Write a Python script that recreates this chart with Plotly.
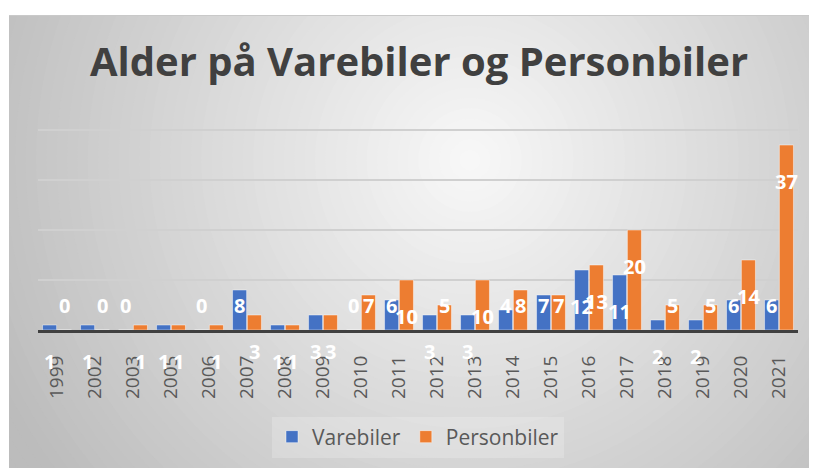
import plotly.graph_objects as go

years = ["1999", "2002", "2003", "2005", "2006", "2007", "2008", "2009", "2010", "2011", "2012",
         "2013", "2014", "2015", "2016", "2017", "2018", "2019", "2020", "2021"]
varebiler = [1, 1, 0, 1, 0, 8, 1, 3, 0, 6, 3, 3, 4, 7, 12, 11, 2, 2, 6, 6]
personbiler = [0, 0, 1, 1, 1, 3, 1, 3, 7, 10, 5, 10, 8, 7, 13, 20, 5, 5, 14, 37]

TITLE = "Alder på Varebiler og Personbiler"
BLUE = "#4472C4"
ORANGE = "#ED7D31"
FONT = "Open Sans"

# The page body has an 8px default margin, so the figure is drawn 8px in;
# the white strip left/top of the chart area comes from the page itself.
OFF = 8
W, H = 817 - OFF, 468 - OFF
YMAX = 41
# plot area in window pixels: x 38..798, y (330 - 5*YMAX)..330
ML, MR, MT, MB = 38 - OFF, 817 - 798, 330 - 5 * YMAX - OFF, 468 - 330
PW, PH = W - ML - MR, H - MT - MB


def px2paper_x(px):  # px in window coordinates
    return (px - OFF - ML) / PW


def px2paper_y(py):
    return (H - MB - (py - OFF)) / PH


fig = go.Figure()
fig.add_trace(go.Bar(name="Varebiler", x=years, y=varebiler,
                     marker=dict(color=BLUE, line=dict(color="rgba(255,255,255,0.45)", width=1))))
fig.add_trace(go.Bar(name="Personbiler", x=years, y=personbiler,
                     marker=dict(color=ORANGE, line=dict(color="rgba(255,255,255,0.45)", width=1))))

# background: white page, gray chart area with radial light centre
shapes = []
shapes.append(dict(type="rect", xref="paper", yref="paper", layer="below",
                   x0=px2paper_x(9), x1=px2paper_x(830), y0=px2paper_y(15), y1=px2paper_y(480),
                   fillcolor="#bdbdbd", line=dict(width=0)))
cx, cy = 470, 160
N = 60
RMAX = 620
for i in range(N):
    r = RMAX * (1 - i / N)
    c = int(max(188, min(249, 249 - 0.115 * r)))
    col = f"rgb({c},{c},{c})"
    shapes.append(dict(type="circle", xref="paper", yref="paper", layer="below",
                       x0=px2paper_x(cx - r), x1=px2paper_x(cx + r),
                       y0=px2paper_y(cy + r), y1=px2paper_y(cy - r),
                       fillcolor=col, line=dict(width=0)))
# white margins outside chart area
shapes.append(dict(type="rect", xref="paper", yref="paper", layer="below",
                   x0=px2paper_x(-10), x1=px2paper_x(9), y0=px2paper_y(-10), y1=px2paper_y(480),
                   fillcolor="white", line=dict(width=0)))
shapes.append(dict(type="rect", xref="paper", yref="paper", layer="below",
                   x0=px2paper_x(-10), x1=px2paper_x(830), y0=px2paper_y(-10), y1=px2paper_y(15),
                   fillcolor="white", line=dict(width=0)))
shapes.append(dict(type="line", xref="paper", yref="paper", layer="below",
                   x0=px2paper_x(9), x1=px2paper_x(830), y0=px2paper_y(15.5), y1=px2paper_y(15.5),
                   line=dict(color="#c9c9c9", width=1)))

# data labels (white, bold) positioned like the original
annotations = []


def label_pos(v):
    # small/mid bars have their label on a fixed row, others sit inside the bar end
    if v == 0 or 4 <= v <= 8:
        return 5, 0
    return v, -36


for series, shift in ((varebiler, -7.4), (personbiler, 7.4)):
    for i, v in enumerate(series):
        yv, ys = label_pos(v)
        annotations.append(dict(x=i, y=yv, xref="x", yref="y", text=str(v), showarrow=False,
                                xshift=shift, yshift=ys, yanchor="middle", xanchor="center",
                                font=dict(family=FONT, size=20, color="white", weight="bold")))

fig.update_layout(
    width=W, height=H,
    margin=dict(l=ML, r=MR, t=MT, b=MB, autoexpand=False),
    paper_bgcolor="white",
    plot_bgcolor="rgba(0,0,0,0)",
    barmode="group", bargap=0.22, bargroupgap=0.05,
    title=dict(text=TITLE, x=(419 - OFF) / W, xref="container", xanchor="center",
               y=1 - (62 - OFF) / H, yref="container", yanchor="middle",
               font=dict(family=FONT, size=40, color="#404040", weight="bold")),
    showlegend=True,
    legend=dict(orientation="h", x=(418 - OFF) / W, xref="container", xanchor="center",
                y=1 - (437 - OFF) / H, yref="container", yanchor="middle",
                bgcolor="rgba(255,255,255,0.2)", font=dict(family=FONT, size=21, color="#595959"),
                traceorder="normal", itemwidth=30),
    shapes=shapes,
    annotations=annotations,
    font=dict(family=FONT),
)
fig.update_xaxes(type="category", range=[-0.5, len(years) - 0.5], showline=True,
                 linecolor="#404040", linewidth=3, automargin=False,
                 tickangle=-90, ticks="", ticklabelstandoff=15,
                 tickfont=dict(family=FONT, size=19, color="#595959"), showgrid=False)
fig.update_yaxes(range=[0, YMAX], tickvals=[10, 20, 30, 40], showticklabels=False, showgrid=True,
                 automargin=False, gridcolor="#d0d0d0", gridwidth=1.5, zeroline=False,
                 fixedrange=True)

fig.write_html("out.html")
